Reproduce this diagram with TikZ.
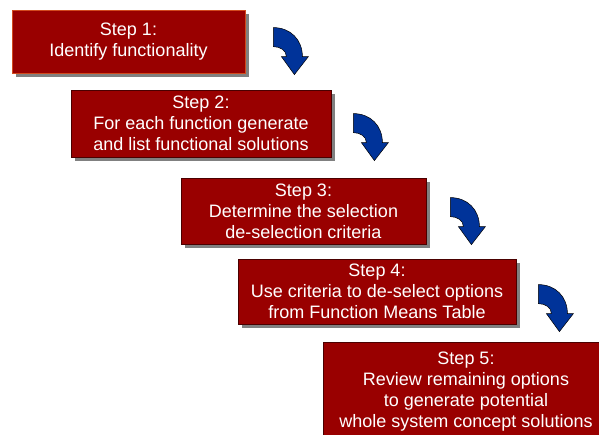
\documentclass[tikz,border=0pt]{standalone}
\usepackage{fontspec}
\setmainfont{Liberation Sans}
\usetikzlibrary{calc,shadows}

\definecolor{boxred}{HTML}{990000}
\definecolor{boxline}{HTML}{4A0000}
\definecolor{firstline}{HTML}{D24A1E}
\definecolor{arrowblue}{HTML}{003399}

\tikzset{
	stepbox/.style={draw=boxline, line width=0.8pt, fill=boxred, text=white, align=center, inner sep=0pt,
		font=\fontsize{18}{21}\selectfont,
		general shadow={fill=black!50, shadow xshift=4pt, shadow yshift=-4pt}},
	turnarrow/.pic={
		\filldraw[fill=arrowblue, draw=black, line width=0.5pt]
			(0,0) .. controls (17,0) and (29,12) .. (29,29) -- (35,29) -- (21,47) -- (8,29) -- (13,29)
			.. controls (13,23) and (7,19) .. (0,19) -- cycle;
	}
}

\begin{document}
\begin{tikzpicture}[x=1pt,y=-1pt]
	%\draw[help lines] (0,0) grid[step=50] (599,434);
	\clip (0,0) rectangle (599,434);

	\node[stepbox, draw=firstline, minimum width=233pt, minimum height=63pt] (step1) at (128.5,41.5) {Step 1:\\Identify functionality};
	\node[stepbox, minimum width=260pt, minimum height=67pt] (step2) at (201,123.5) {Step 2:\\For each function generate\\and list functional solutions};
	\node[stepbox, minimum width=245pt, minimum height=66pt] (step3) at (303.5,211) {Step 3:\\Determine the selection\\de-selection criteria};
	\node[stepbox, minimum width=278pt, minimum height=65pt] (step4) at (377,291.5) {Step 4:\\Use criteria to de-select options\\from Function Means Table};
	\node[stepbox, minimum width=286pt, minimum height=100pt] (step5) at (466,392) {Step 5:\\Review remaining options\\to generate potential\\whole system concept solutions};

	\pic at ($(step1.north east)+(28,18)$) {turnarrow};
	\pic at ($(step2.north east)+(22,24)$) {turnarrow};
	\pic at ($(step3.north east)+(24,20)$) {turnarrow};
	\pic at ($(step4.north east)+(22,26)$) {turnarrow};

\end{tikzpicture}
\end{document}
